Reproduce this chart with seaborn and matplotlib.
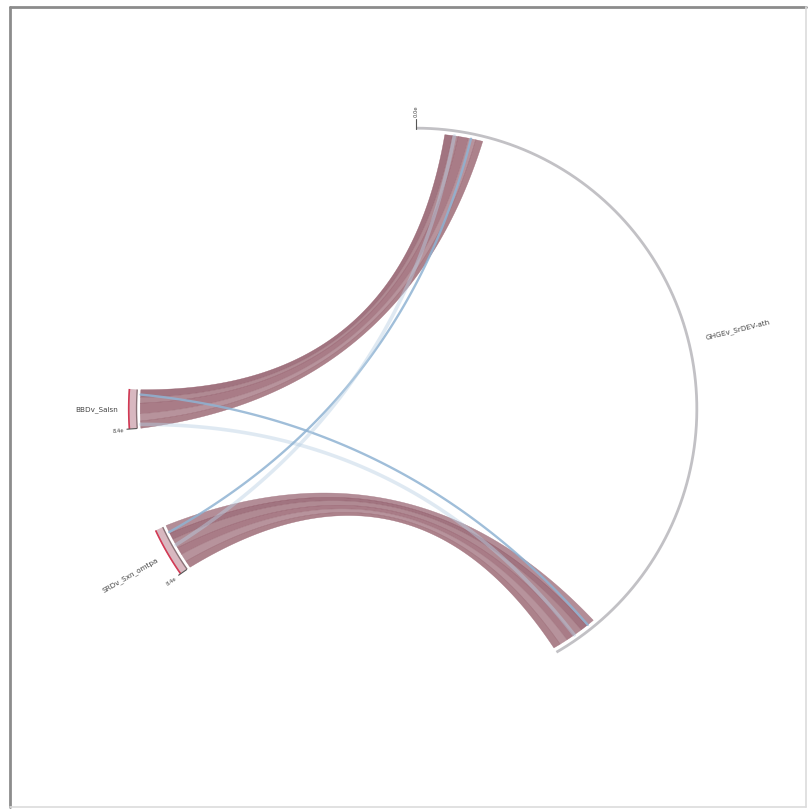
import numpy as np
import matplotlib
matplotlib.use("Agg")
import matplotlib.pyplot as plt
from matplotlib.patches import Polygon, Wedge
from matplotlib.lines import Line2D
import seaborn as sns

# ---------------- data ----------------
sector_names = ["GHGEv_SrDEV-ath", "SRDv_Sxn_omtpa", "BBDv_Salsn"]
sector_sizes = [150, 10, 8]
sector_tick_labels = ["0.0e", "8.4e", "8.4e"]

# ribbons (sub-links): source sector -> big sector
ribbon_src = ["BBDv_Salsn"] * 5 + ["SRDv_Sxn_omtpa"] * 6
ribbon_values = [1.6, 1.2, 2.2, 1.5, 1.5, 1.8, 1.4, 2.0, 1.6, 1.7, 1.5]

# thin blue links: (source sector, offset in source, offset in big sector)
blue_src = ["BBDv_Salsn", "BBDv_Salsn", "SRDv_Sxn_omtpa", "SRDv_Sxn_omtpa"]
blue_src_offset = [7.0, 0.8, 8.5, 5.5]
blue_dst_offset = [141.5, 145.0, 11.5, 8.0]

# ---------------- layout ----------------
sector_start = {"GHGEv_SrDEV-ath": 0, "SRDv_Sxn_omtpa": 235, "BBDv_Salsn": 266}
ribbon_dst_start = {"BBDv_Salsn": 6, "SRDv_Sxn_omtpa": 140}

sns.set_theme(style="white")
plt.rcParams["font.family"] = ["DejaVu Sans"]

W, H = 810, 812
fig = plt.figure(figsize=(W / 100, H / 100), dpi=100)
ax = fig.add_axes([0, 0, 1, 1])
cx, cy, R = 416, 410, 280
ax.set_xlim(-cx / R, (W - cx) / R)
ax.set_ylim(-(H - cy) / R, cy / R)
ax.axis("off")


def pt(theta, r):
    phi = np.radians(90 - np.asarray(theta, dtype=float))
    return r * np.cos(phi), r * np.sin(phi)


def arc(t0, t1, r, n=40):
    t = np.linspace(t0, t1, n)
    x, y = pt(t, r)
    return np.column_stack([x, y])


def bez(p0, p2, n=80, k=0.0):
    t = np.linspace(0, 1, n)[:, None]
    p0 = np.asarray(p0); p2 = np.asarray(p2)
    ctrl = k * (p0 + p2) / 2
    return (1 - t) ** 2 * p0 + 2 * (1 - t) * t * ctrl + (t ** 2) * p2


RL = 0.985

# ribbons
pal_a = sns.blend_palette(["#8d5564", "#9f717c", "#965f6d", "#a77c86", "#9a6672", "#a27480"], 6)
cum = {}
for i, (src, v) in enumerate(zip(ribbon_src, ribbon_values)):
    c = cum.get(src, 0.0)
    s_end = sector_start[src] + sector_sizes[sector_names.index(src)]
    a_lo, a_hi = s_end - c - v, s_end - c
    b_lo = ribbon_dst_start[src] + c
    b_hi = b_lo + v
    cum[src] = c + v
    A = arc(a_lo, a_hi, RL, 10)
    B = arc(b_lo, b_hi, RL, 10)
    c1 = bez(A[-1], B[0], k=0.12)
    c2 = bez(B[-1], A[0], k=0.12)
    poly = np.vstack([A, c1, B, c2])
    col = pal_a[i % 6]
    ax.add_patch(Polygon(poly, closed=True, facecolor=col, edgecolor=col,
                         lw=0.3, alpha=0.82, zorder=2))

# blue thin links
for j, (src, so, do) in enumerate(zip(blue_src, blue_src_offset, blue_dst_offset)):
    p0 = np.array(pt(sector_start[src] + so, RL))
    p2 = np.array(pt(do, RL))
    curve = bez(p0, p2, 120, k=0.12)
    strong = j % 2 == 0
    sns.lineplot(x=curve[:, 0], y=curve[:, 1], sort=False, ax=ax,
                 color="#8fb3d3" if strong else "#b9d0e4",
                 lw=1.7 if strong else 2.6, alpha=0.85 if strong else 0.45, zorder=3)

# sector tracks
for name, size in zip(sector_names, sector_sizes):
    t0 = sector_start[name]
    t1 = t0 + size
    if name == sector_names[0]:
        xs, ys = pt(np.linspace(t0, t1, 300), 1.003)
        ax.plot(xs, ys, color="#c2c1c5", lw=2.0, zorder=4, solid_capstyle="butt")
    else:
        ax.add_patch(Wedge((0, 0), 1.028, 90 - t1, 90 - t0, width=0.03,
                           facecolor="#d8b8c0", edgecolor="none", zorder=4))
        xo, yo = pt(np.linspace(t0, t1, 20), 1.026)
        ax.plot(xo, yo, color="#d23a55", lw=1.2, zorder=5, solid_capstyle="butt")
        xi, yi = pt(np.linspace(t0, t1, 20), 0.998)
        ax.plot(xi, yi, color="#8a7378", lw=1.0, zorder=5, solid_capstyle="butt")

# ticks and tick labels at sector start
for name, lab in zip(sector_names, sector_tick_labels):
    t0 = sector_start[name]
    x1, y1 = pt(t0, 1.0)
    x2, y2 = pt(t0, 1.035)
    ax.plot([x1, x2], [y1, y2], color="#555555", lw=0.8, zorder=5)
    xt, yt = pt(t0, 1.045)
    if t0 < 180:
        ax.text(xt, yt, lab, rotation=90 - t0, ha="left", va="center", rotation_mode="anchor",
                fontsize=3.8, color="#444444")
    else:
        ax.text(xt, yt, lab, rotation=90 - t0 + 180, ha="right", va="center", rotation_mode="anchor",
                fontsize=3.8, color="#444444")

# sector labels
label_theta = {"GHGEv_SrDEV-ath": 76, "SRDv_Sxn_omtpa": 240, "BBDv_Salsn": 270}
for name in sector_names:
    th = label_theta[name]
    xt, yt = pt(th, 1.065)
    if th < 180:
        ax.text(xt, yt, name, rotation=90 - th, ha="left", va="center", rotation_mode="anchor",
                fontsize=5.2, color="#444444")
    else:
        ax.text(xt, yt, name, rotation=90 - th + 180, ha="right", va="center", rotation_mode="anchor",
                fontsize=5.2, color="#444444")

# frame around figure
x0, x1f = 10 / W, 806 / W
y0, y1f = 1 - 808 / H, 1 - 8 / H
fig.add_artist(Line2D([x0, x0], [y0, y1f], transform=fig.transFigure, color="#8c8c8c", lw=2.0))
fig.add_artist(Line2D([x0, x1f], [y1f, y1f], transform=fig.transFigure, color="#8c8c8c", lw=2.0))
fig.add_artist(Line2D([x1f, x1f], [y0, y1f], transform=fig.transFigure, color="#dcdcdc", lw=1.2))
fig.add_artist(Line2D([x0, x1f], [y0, y0], transform=fig.transFigure, color="#dcdcdc", lw=1.2))

fig.savefig("out.png", dpi=100)
